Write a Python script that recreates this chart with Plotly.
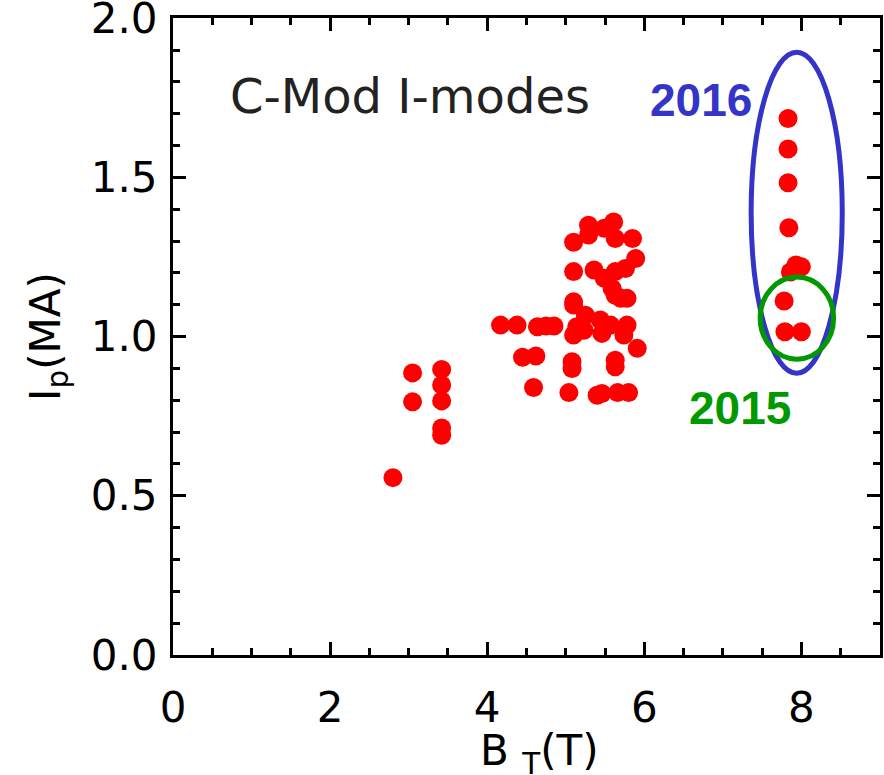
import plotly.graph_objects as go

# Toroidal field B_T (T) and plasma current I_p (MA) of the C-Mod I-mode discharges
bt = [2.80,
      3.05, 3.05,
      3.42, 3.42, 3.42, 3.42, 3.42,
      4.17, 4.38, 4.64, 4.75, 4.85,
      4.45, 4.62, 4.59,
      5.04, 5.08, 5.08, 5.40, 5.46, 5.66, 5.80, 5.63, 5.63, 5.91,
      5.10, 5.10, 5.14, 5.25, 5.44, 5.46, 5.57, 5.78, 5.74, 5.23,
      5.10, 5.29, 5.29, 5.49, 5.61, 5.63, 5.85, 5.89, 5.76,
      5.10, 5.36, 5.49, 5.63, 5.59, 5.63, 5.78, 5.10, 5.70,
      7.83, 7.83, 7.83, 7.84, 7.86, 7.93, 8.00, 7.78, 7.79, 8.00]
ip = [0.557,
      0.886, 0.795,
      0.897, 0.848, 0.798, 0.713, 0.690,
      1.036, 1.036, 1.031, 1.033, 1.033,
      0.935, 0.939, 0.840,
      0.824, 0.921, 0.900, 0.816, 0.821, 0.824, 0.824, 0.926, 0.905, 0.963,
      1.099, 1.005, 1.031, 1.067, 1.052, 1.010, 1.036, 1.036, 1.005, 1.020,
      1.296, 1.350, 1.319, 1.340, 1.360, 1.308, 1.308, 1.245, 1.214,
      1.204, 1.209, 1.183, 1.204, 1.151, 1.130, 1.120, 1.109, 1.120,
      1.685, 1.589, 1.483, 1.342, 1.203, 1.225, 1.219, 1.112, 1.015, 1.015]

x_ticks = [0, 2, 4, 6, 8]
y_ticks = [0.0, 0.5, 1.0, 1.5, 2.0]

FONT = "DejaVu Sans"
BLUE = "#3434C8"
GREEN = "#009A00"

fig = go.Figure()
fig.add_trace(go.Scatter(
    x=bt, y=ip, mode="markers",
    marker=dict(color="#FF0000", size=19, line=dict(width=0)),
    showlegend=False, hoverinfo="x+y",
))

axis_common = dict(
    showline=True, linecolor="black", linewidth=3, mirror="ticks",
    ticks="inside", tickcolor="black", tickwidth=2.5, ticklen=13,
    showgrid=False, zeroline=False, ticklabeloverflow="allow", automargin=False,
    tickfont=dict(family=FONT, size=42, color="black"),
    minor=dict(ticks="inside", ticklen=7, tickwidth=2.5, tickcolor="black", showgrid=False),
)

fig.update_xaxes(
    range=[0, 9.0005], tickvals=x_ticks, ticktext=[str(v) for v in x_ticks],
    minor_dtick=0.5, minor_tick0=0,
    ticklabelstandoff=14,
    **axis_common,
)
fig.update_yaxes(
    range=[0, 2.0005], tickvals=y_ticks, ticktext=[f"{v:.1f}" for v in y_ticks],
    minor_dtick=0.1, minor_tick0=0,
    title=dict(text="I<sub>p</sub>(MA)", font=dict(family=FONT, size=42, color="black"), standoff=18),
    ticklabelstandoff=4,
    **axis_common,
)

# x-axis title, placed below the tick labels
fig.add_annotation(x=4.66, y=-0.154, xref="x", yref="paper", yanchor="middle",
                   text="B <sub>T</sub>(T)", showarrow=False,
                   font=dict(family=FONT, size=42, color="black"))

# Groupings of the high-field discharges by campaign
fig.add_shape(type="circle", xref="x", yref="y", x0=7.36, x1=8.52, y0=0.885, y1=1.893,
              line=dict(color=BLUE, width=5))
fig.add_shape(type="circle", xref="x", yref="y", x0=7.475, x1=8.41, y0=0.929, y1=1.187,
              line=dict(color=GREEN, width=5))

fig.add_annotation(x=3.02, y=1.755, xref="x", yref="y", text="C-Mod I-modes", showarrow=False,
                   font=dict(family=FONT, size=48, color="#222222"))
fig.add_annotation(x=6.72, y=1.743, xref="x", yref="y", text="<b>2016</b>", showarrow=False,
                   font=dict(family="Liberation Sans", size=46, color=BLUE))
fig.add_annotation(x=7.22, y=0.776, xref="x", yref="y", text="<b>2015</b>", showarrow=False,
                   font=dict(family="Liberation Sans", size=46, color=GREEN))

fig.update_layout(
    width=884, height=775,
    margin=dict(l=173, r=4, t=18, b=120),
    plot_bgcolor="white", paper_bgcolor="white",
)

fig.write_html("out.html")
